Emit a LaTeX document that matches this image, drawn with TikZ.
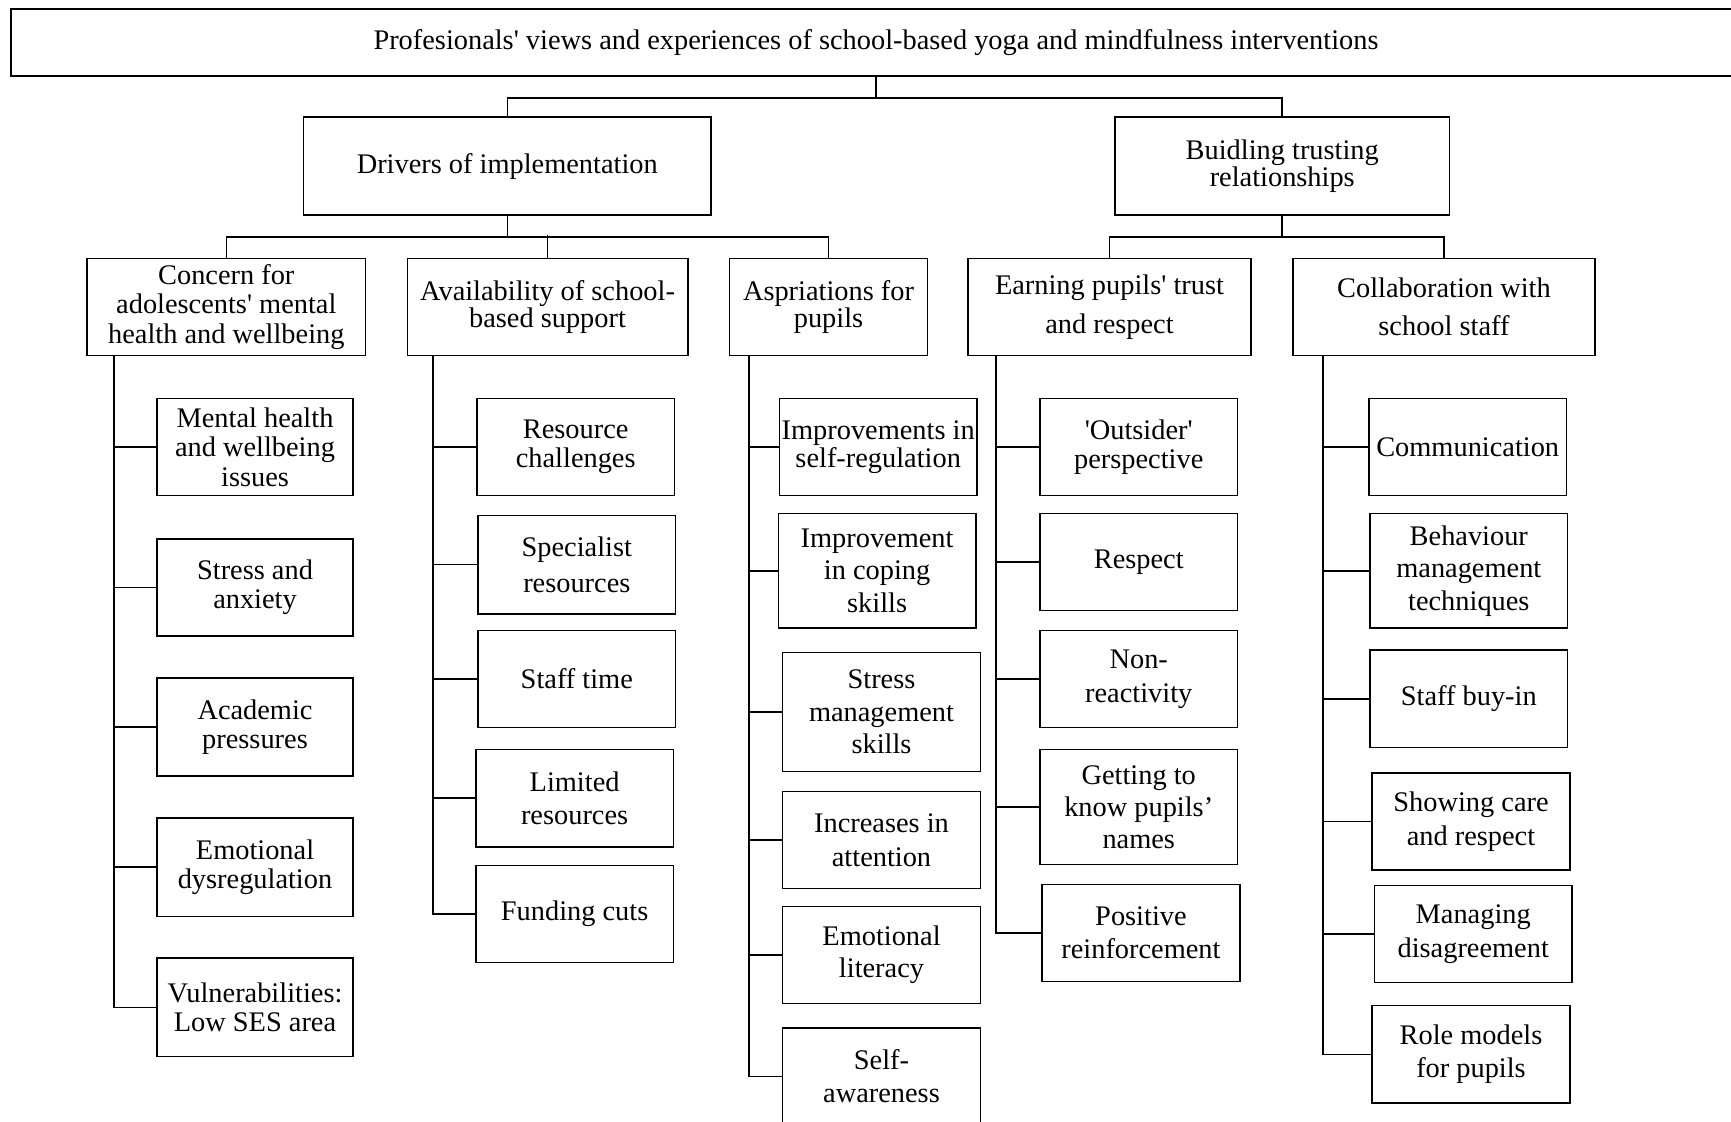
\documentclass[tikz,border=0pt]{standalone}
\usepackage{fontspec}
\setmainfont{Liberation Serif}
\newcommand{\sq}{\textquotesingle}
% \themebox{name}{centre x}{centre y}{width}{height}{line spacing}{text}
\newcommand{\themebox}[7]{%
  \node[box, lead=#6, minimum width=#4, minimum height=#5] (#1) at (#2,#3) {#7};}
\begin{document}
\begin{tikzpicture}[x=1pt, y=-1pt,
  box/.style={draw, line width=1.4pt, align=center, inner sep=0pt},
  lead/.style={font=\fontsize{25.7pt}{#1pt}\selectfont},
  link/.style={line width=1.4pt}]
\clip (0,0) rectangle (1568,1016);

% overall theme
\themebox{top}{793.5}{38.5}{1567}{61}{27}{Profesionals\sq\ views and experiences of school-based yoga and mindfulness interventions}

% main themes
\themebox{drv}{459.5}{150.5}{369}{89}{25}{Drivers of implementation}
\themebox{bld}{1161.5}{150.5}{303}{89}{25}{Buidling trusting\\relationships}

% sub-themes
\themebox{c1}{205}{278}{252}{88}{26.5}{Concern for\\adolescents\sq\ mental\\health and wellbeing}
\themebox{c2}{496}{278}{254}{88}{25}{Availability of school-\\based support}
\themebox{c3}{750.5}{278}{179}{88}{25}{Aspriations for\\pupils}
\themebox{e1}{1005}{278}{256}{88}{35}{Earning pupils\sq\ trust\\and respect}
\themebox{e2}{1308}{278}{274}{88}{35}{Collaboration with\\school staff}

% codes: concern for mental health
\themebox{mh}{231}{405}{178}{88}{27}{Mental health\\and wellbeing\\issues}
\themebox{sa}{231}{532}{178}{88}{26}{Stress and\\anxiety}
\themebox{ap}{231}{658.5}{178}{89}{26}{Academic\\pressures}
\themebox{ed}{231}{785.5}{178}{89}{26}{Emotional\\dysregulation}
\themebox{vu}{231}{912.5}{178}{89}{27}{Vulnerabilities:\\Low SES area}

% codes: school-based support
\themebox{rc}{521.5}{405}{179}{88}{26}{Resource\\challenges}
\themebox{sr}{522.5}{511.5}{179}{89}{32}{Specialist\\resources}
\themebox{st}{522.5}{615}{179}{88}{30}{Staff time}
\themebox{lr}{520.5}{723}{179}{88}{30}{Limited\\resources}
\themebox{fc}{520.5}{828}{179}{88}{30}{Funding cuts}

% codes: aspirations for pupils
\themebox{isr}{795.5}{405}{179}{88}{26}{Improvements in\\self-regulation}
\themebox{ics}{794.5}{517}{179}{104}{29.5}{Improvement\\in coping\\skills}
\themebox{sms}{798.5}{645}{179}{108}{29.5}{Stress\\management\\skills}
\themebox{ia}{798.5}{761}{179}{88}{31}{Increases in\\attention}
\themebox{el}{798.5}{865}{179}{88}{29}{Emotional\\literacy}
\themebox{saw}{798.5}{975}{179}{88}{30}{Self-\\awareness}

% codes: earning trust
\themebox{out}{1031.5}{405}{179}{88}{26}{\sq Outsider\sq\\perspective}
\themebox{res}{1031.5}{509}{179}{88}{30}{Respect}
\themebox{nr}{1031.5}{615}{179}{88}{31}{Non-\\reactivity}
\themebox{gk}{1031.5}{731}{179}{104}{29}{Getting to\\know pupils’\\names}
\themebox{pr}{1033.5}{845}{179}{88}{30}{Positive\\reinforcement}

% codes: collaboration with staff
\themebox{com}{1329.5}{405}{179}{88}{30}{Communication}
\themebox{bmt}{1330.5}{517}{179}{104}{29.5}{Behaviour\\management\\techniques}
\themebox{sb}{1330.5}{633}{179}{88}{30}{Staff buy-in}
\themebox{scr}{1332.5}{744}{179}{88}{31}{Showing care\\and respect}
\themebox{md}{1334.5}{846}{179}{88}{31}{Managing\\disagreement}
\themebox{rm}{1332.5}{955}{179}{88}{30}{Role models\\for pupils}

% top level branching
\draw[link] (top.south) -- ++(0,19);
\draw[link] (drv.north) |- ([yshift=-19pt]top.south) -| (bld.north);

% main themes to sub-themes
\draw[link] (drv.south) -- ++(0,19);
\draw[link] (c1.north) |- ([yshift=-19pt]drv.south) -| (c3.north);
\draw[link] (c2.north) -- ++(0,-20);
\draw[link] (bld.south) -- ++(0,19);
\draw[link] (e1.north) |- ([yshift=-19pt]bld.south) -| (e2.north);

% trunks running down each sub-theme
\coordinate (t1) at ([xshift=25pt]c1.south west);
\coordinate (t2) at ([xshift=24pt]c2.south west);
\coordinate (t3) at ([xshift=18pt]c3.south west);
\coordinate (t4) at ([xshift=26pt]e1.south west);
\coordinate (t5) at ([xshift=28pt]e2.south west);

\foreach \n in {mh,sa,ap,ed,vu} \draw[link] (t1) |- (\n.west);
\foreach \n in {rc,sr,st,lr,fc} \draw[link] (t2) |- (\n.west);
\foreach \n in {isr,ics,sms,ia,el,saw} \draw[link] (t3) |- (\n.west);
\foreach \n in {out,res,nr,gk,pr} \draw[link] (t4) |- (\n.west);
\foreach \n in {com,bmt,sb,scr,md,rm} \draw[link] (t5) |- (\n.west);
\end{tikzpicture}
\end{document}
